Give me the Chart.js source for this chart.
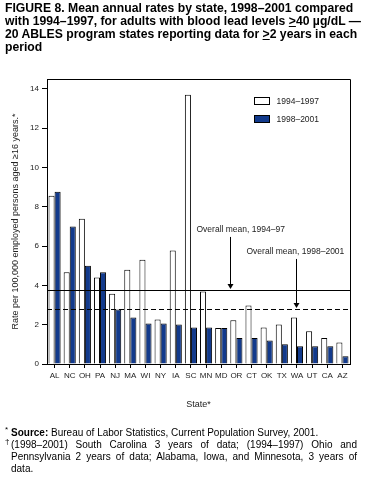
<!DOCTYPE html>
<html><head><meta charset="utf-8">
<script src="https://cdn.jsdelivr.net/npm/chart.js@4.4.1/dist/chart.umd.min.js"></script>
<style>
html,body{margin:0;padding:0;background:#fff;}
body{width:369px;height:481px;position:relative;overflow:hidden;font-family:"Liberation Sans",Arial,Helvetica,sans-serif;color:#000;}
#c{position:absolute;left:0;top:0;}
#title{position:absolute;left:5px;top:2px;font-weight:bold;font-size:12.2px;line-height:13px;white-space:nowrap;}
#notes{position:absolute;left:5px;top:427px;width:352px;font-size:10px;line-height:12px;}
.fn{position:relative;padding-left:6px;}
.fn .m{position:absolute;left:0;top:-3px;font-size:8px;}
.jl{display:block;text-align:justify;text-align-last:justify;white-space:nowrap;}
</style></head>
<body>
<canvas id="c" width="369" height="481"></canvas>
<div id="title">FIGURE 8. Mean annual rates by state, 1998–2001 compared<br>with 1994–1997, for adults with blood lead levels <u>&gt;</u>40 µg/dL —<br>20 ABLES program states reporting data for <u>&gt;</u>2 years in each<br>period</div>
<div id="notes">
<div class="fn"><span class="m">*</span><b>Source:</b> Bureau of Labor Statistics, Current Population Survey, 2001.</div>
<div class="fn"><span class="m">†</span><span class="jl">(1998–2001) South Carolina 3 years of data; (1994–1997) Ohio and</span><span class="jl">Pennsylvania 2 years of data; Alabama, Iowa, and Minnesota, 3 years of</span><span>data.</span></div>
</div>
<script>
// ---- data ----
const states = ['AL','NC','OH','PA','NJ','MA','WI','NY','IA','SC','MN','MD','OR','CT','OK','TX','WA','UT','CA','AZ'];
const rates9497 = [8.56,4.67,7.39,4.40,3.58,4.80,5.31,2.27,5.77,13.70,3.69,1.83,2.23,2.98,1.86,2.01,2.37,1.66,1.32,1.10];
const rates9801 = [8.76,7.00,5.00,4.67,2.77,2.37,2.06,2.06,2.01,1.86,1.86,1.83,1.32,1.32,1.20,1.00,0.90,0.90,0.90,0.39];
const seriesLabels = ['1994–1997','1998–2001'];
const mean9497 = 3.74;
const mean9801 = 2.79;
const yTicks = [0,2,4,6,8,10,12,14];
// annotations: label text, category position of arrow, value of label
const annotations = [
  {text:'Overall mean, 1994–97', at:11.6, labelValue:6.82, target:mean9497, textShift:-34},
  {text:'Overall mean, 1998–2001', at:15.95, labelValue:5.7, target:mean9801, textShift:-50}
];

const FONT = '"Liberation Sans", Arial, Helvetica, sans-serif';
Chart.defaults.font.family = FONT;
Chart.defaults.color = '#222';

const decor = {
  id:'decor',
  afterDatasetsDraw(chart){
    const {ctx, chartArea:ca, scales:{x,y}} = chart;
    ctx.save();
    ctx.strokeStyle = '#000'; ctx.lineWidth = 1;
    // top and right border
    ctx.beginPath();
    ctx.moveTo(Math.round(ca.left)+0.5, Math.round(ca.top)+0.5);
    ctx.lineTo(Math.round(ca.right)+0.5, Math.round(ca.top)+0.5);
    ctx.lineTo(Math.round(ca.right)+0.5, Math.round(ca.bottom)+0.5);
    ctx.stroke();
    // mean lines
    const y1 = Math.round(y.getPixelForValue(mean9497))+0.5;
    ctx.beginPath(); ctx.moveTo(ca.left, y1); ctx.lineTo(ca.right, y1); ctx.stroke();
    const y2 = Math.round(y.getPixelForValue(mean9801))+0.5;
    ctx.setLineDash([5,3]);
    ctx.beginPath(); ctx.moveTo(ca.left, y2); ctx.lineTo(ca.right, y2); ctx.stroke();
    ctx.setLineDash([]);
    // annotations
    const step = x.getPixelForValue(1) - x.getPixelForValue(0);
    ctx.font = '8.5px ' + FONT;
    ctx.textBaseline = 'middle';
    annotations.forEach(a => {
      const ax = Math.round(x.getPixelForValue(0) + a.at*step) + 0.5;
      const ly = y.getPixelForValue(a.labelValue);
      const ty = Math.round(y.getPixelForValue(a.target));
      ctx.textAlign = 'left';
      ctx.fillStyle = '#222';
      ctx.fillText(a.text, ax + a.textShift, ly);
      ctx.beginPath(); ctx.moveTo(ax, ly + 7); ctx.lineTo(ax, ty - 4); ctx.stroke();
      ctx.fillStyle = '#000';
      ctx.beginPath(); ctx.moveTo(ax-3, ty-6); ctx.lineTo(ax+3, ty-6); ctx.lineTo(ax, ty-1); ctx.closePath(); ctx.fill();
    });
    // legend
    const ds = chart.data.datasets;
    ds.forEach((d,i) => {
      const bx = Math.round(ca.right) - 95.5, by = Math.round(ca.top) + 18.5 + i*18;
      ctx.fillStyle = d.backgroundColor;
      ctx.fillRect(bx, by, 15, 7);
      ctx.strokeStyle = '#000';
      ctx.strokeRect(bx, by, 15, 7);
      ctx.fillStyle = '#222';
      ctx.textAlign = 'left';
      ctx.fillText(d.label, bx + 22, by + 4);
    });
    ctx.restore();
  }
};

new Chart(document.getElementById('c'), {
  type:'bar',
  data:{
    labels: states,
    datasets:[
      {label:seriesLabels[0], data:rates9497, backgroundColor:'#ffffff', borderColor:'#000', borderWidth:1, borderSkipped:'bottom'},
      {label:seriesLabels[1], data:rates9801, backgroundColor:'#123a8c', borderColor:'#000', borderWidth:1, borderSkipped:'bottom'}
    ]
  },
  options:{
    responsive:false,
    animation:false,
    devicePixelRatio:1,
    layout:{padding:{top:79, right:19, bottom:71, left:0}},
    plugins:{legend:{display:false}, tooltip:{enabled:false}},
    datasets:{bar:{categoryPercentage:0.8, barPercentage:1.0}},
    scales:{
      x:{
        grid:{offset:false, drawOnChartArea:false, tickLength:4, color:'#000'},
        border:{display:true, color:'#000', width:1},
        ticks:{font:{size:8}, color:'#222', padding:3, maxRotation:0, autoSkip:false},
        title:{display:true, text:'State*', font:{size:9}, color:'#222', padding:{top:0,bottom:0}},
        afterFit(s){ s.height = 46; }
      },
      y:{
        min:0, max:14.5,
        afterBuildTicks(s){ s.ticks = yTicks.map(v => ({value:v})); },
        grid:{drawOnChartArea:false, tickLength:5, color:'#000'},
        border:{display:true, color:'#000', width:1},
        ticks:{font:{size:8}, color:'#222', padding:3},
        title:{display:true, text:'Rate per 100,000 employed persons aged ≥16 years.*', font:{size:9}, color:'#222', padding:{top:10,bottom:0}},
        afterFit(s){ s.width = 47; }
      }
    }
  },
  plugins:[decor]
});
</script>
</body></html>
